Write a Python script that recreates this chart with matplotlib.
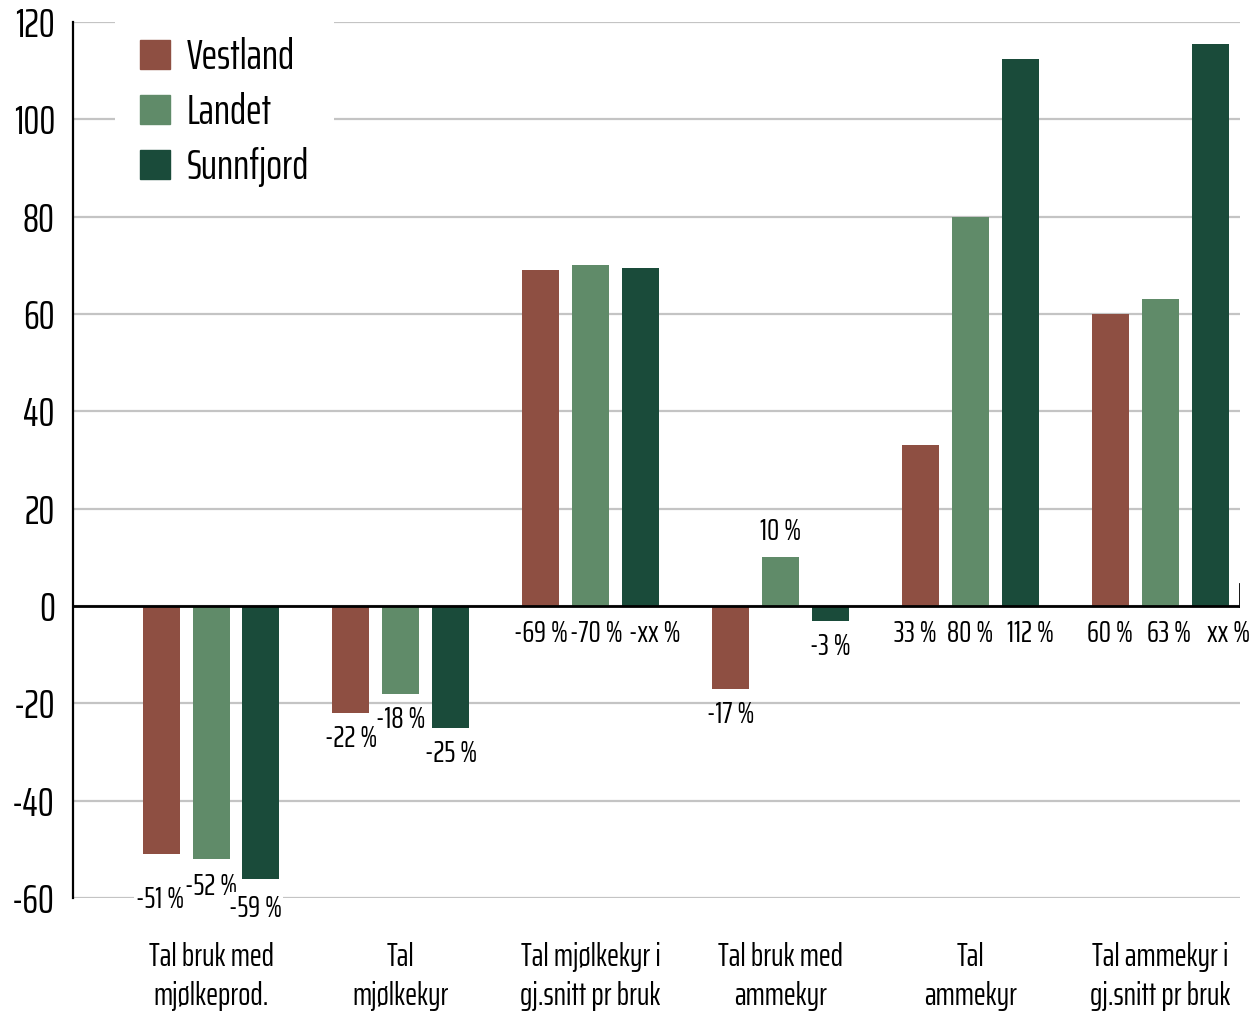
import matplotlib.pyplot as plt
import matplotlib.patches as mpatches
import matplotlib.font_manager as fm
import numpy as np

categories = ['Tal bruk med\nmjølkeprod.', 'Tal\nmjølkekyr', 'Tal mjølkekyr i\ngj.snitt pr bruk',
              'Tal bruk med\nammekyr', 'Tal\nammekyr', 'Tal ammekyr i\ngj.snitt pr bruk']
series = ['Vestland', 'Landet', 'Sunnfjord']

vestland = [-51, -22, 69, -17, 33, 60]
landet = [-52, -18, 70, 10, 80, 63]
sunnfjord = [-56, -25, 69.5, -3, 112.5, 115.5]

vestland_labels = ['-51 %', '-22 %', '-69 %', '-17 %', '33 %', '60 %']
landet_labels = ['-52 %', '-18 %', '-70 %', '10 %', '80 %', '63 %']
sunnfjord_labels = ['-59 %', '-25 %', '-xx %', '-3 %', '112 %', 'xx %']

colors = ['#8E4F42', '#608B69', '#1A4B3A']

# pick a condensed face that is installed
installed = set(f.name for f in fm.fontManager.ttflist)
font = 'DejaVu Sans'
for cand in ['Saira ExtraCondensed', 'Sofia Sans Extra Condensed', 'Barlow Condensed',
             'Roboto Condensed', 'Liberation Sans Narrow']:
    if cand in installed:
        font = cand
        break
plt.rcParams['font.family'] = [font, 'DejaVu Sans']
plt.rcParams['axes.unicode_minus'] = False

fig = plt.figure(figsize=(12.53, 10.11), dpi=100)
ax = fig.add_axes([73/1253, 1-898/1011, (1240-73)/1253, (898-22)/1011])

x = np.arange(len(categories))
width = 0.195
step = 0.263

values = [vestland, landet, sunnfjord]
labels = [vestland_labels, landet_labels, sunnfjord_labels]

# nudges for the staggered value labels (dx, dy in points)
nudge = {(0, 0): (-1, -14), (1, 0): (0, -1), (2, 0): (-4, -3),
         (1, 2): (4, 0), (2, 2): (10, 0),
         (0, 4): (-4, 0), (2, 4): (7, 0),
         (1, 5): (6, 0), (2, 5): (13, 0)}

for i, (name, vals, labs, col) in enumerate(zip(series, values, labels, colors)):
    xs = x + (i - 1) * step
    ax.bar(xs, vals, width=width, color=col, label=name, zorder=2)
    for j, (xv, v, lab) in enumerate(zip(xs, vals, labs)):
        dx, dy = nudge.get((i, j), (0, 0))
        if v < 0:
            y0, off, va = v, -8, 'top'
        elif j == 3:
            y0, off, va = v, 8, 'bottom'
        else:
            y0, off, va = 0, -9, 'top'
        ax.annotate(lab, (xv, y0), xytext=(dx, off + dy), textcoords='offset points',
                    ha='center', va=va, fontsize=22, zorder=4,
                    bbox=dict(boxstyle='square,pad=0.05', fc='white', ec='none') if j == 0 else None)

ax.set_xlim(-0.727, 5.42)
ax.set_ylim(-60, 120)
ax.set_yticks(range(-60, 121, 20))
ax.tick_params(axis='y', length=0, labelsize=29, pad=13)
ax.set_xticks(x)
ax.set_xticklabels(categories, fontsize=23, linespacing=1.35)
ax.tick_params(axis='x', length=0, pad=32)

ax.yaxis.grid(True, color='#c4c4c4', linewidth=1.6)
ax.set_axisbelow(True)
for s in ['top', 'right', 'bottom']:
    ax.spines[s].set_visible(False)
ax.spines['left'].set_linewidth(1.6)
ax.spines['left'].set_color('black')
ax.axhline(0, color='black', linewidth=2, zorder=3)
ax.axvline(ax.get_xlim()[1], ymin=60/180, ymax=64.5/180, color='black', linewidth=2)

handles = [mpatches.Patch(color=c, label=n) for c, n in zip(colors, series)]
leg = ax.legend(handles=handles, loc='upper left', bbox_to_anchor=(115/1253, 1-12/1011),
                bbox_transform=fig.transFigure, borderaxespad=0, fontsize=30,
                handlelength=0.72, handleheight=0.72, handletextpad=0.4,
                labelspacing=0.36, borderpad=0.6, frameon=True, fancybox=False)
leg.get_frame().set_facecolor('white')
leg.get_frame().set_edgecolor('none')
leg.get_frame().set_alpha(1)

fig.savefig('out.png', dpi=100)
